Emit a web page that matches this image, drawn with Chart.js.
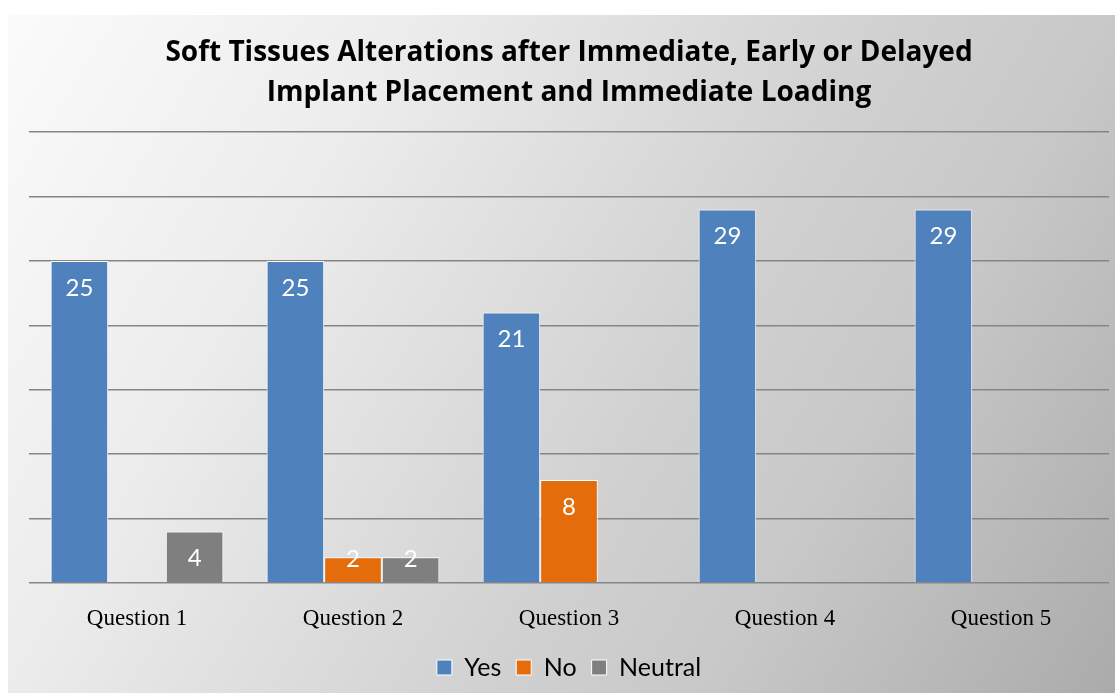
<!DOCTYPE html>
<html>
<head>
<meta charset="utf-8">
<script src="https://cdn.jsdelivr.net/npm/chart.js@4/dist/chart.umd.min.js"></script>
<style>
  html, body { margin: 0; padding: 0; background: #ffffff; }
  #wrap { width: 1115px; height: 693px; }
</style>
</head>
<body>
<div id="wrap"><canvas id="c" width="1115" height="693"></canvas></div>
<script>
const titleLines = ["Soft Tissues Alterations after Immediate, Early or Delayed", "Implant Placement and Immediate Loading"];
const categories = ["Question 1", "Question 2", "Question 3", "Question 4", "Question 5"];
const yesValues = [25, 25, 21, 29, 29];
const noValues = [null, 2, 8, null, null];
const neutralValues = [4, 2, null, null, null];
const seriesNames = ["Yes", "No", "Neutral"];
const seriesColors = ["#4f81bd", "#e46c0a", "#7f7f7f"];
const yMax = 35;
const yStep = 5;

const bgPlugin = {
  id: 'bg',
  beforeDraw(chart) {
    const ctx = chart.ctx;
    const w = chart.width, h = chart.height;
    ctx.save();
    ctx.fillStyle = '#ffffff';
    ctx.fillRect(0, 0, w, h);
    const g = ctx.createLinearGradient(8, 15, w, h);
    g.addColorStop(0, '#fbfbfb');
    g.addColorStop(0.27, '#ececec');
    g.addColorStop(0.58, '#d1d1d1');
    g.addColorStop(0.73, '#c8c8c8');
    g.addColorStop(1, '#ababab');
    ctx.fillStyle = g;
    ctx.fillRect(8, 15, w - 8, h - 15);
    ctx.restore();
  }
};

const labelPlugin = {
  id: 'valueLabels',
  afterDatasetsDraw(chart) {
    const ctx = chart.ctx;
    ctx.save();
    ctx.fillStyle = '#ffffff';
    ctx.font = '24px Lato, "Open Sans", sans-serif';
    ctx.textAlign = 'center';
    ctx.textBaseline = 'middle';
    chart.data.datasets.forEach((ds, di) => {
      const meta = chart.getDatasetMeta(di);
      meta.data.forEach((el, i) => {
        const v = ds.data[i];
        if (v === null || v === undefined) return;
        const cy = Math.min(el.y + 27, el.base - 23);
        ctx.fillText(String(v), el.x, cy);
      });
    });
    ctx.restore();
  }
};

const datasets = [yesValues, noValues, neutralValues].map((vals, i) => ({
  label: seriesNames[i],
  data: vals,
  backgroundColor: seriesColors[i],
  borderColor: '#ffffff',
  borderWidth: 1,
  categoryPercentage: 0.8,
  barPercentage: 1.0
}));

new Chart(document.getElementById('c'), {
  type: 'bar',
  data: { labels: categories, datasets: datasets },
  plugins: [bgPlugin, labelPlugin],
  options: {
    responsive: false,
    animation: false,
    events: [],
    layout: { padding: { left: 29, right: 6, top: 0, bottom: 3 } },
    plugins: {
      tooltip: { enabled: false },
      title: {
        display: true,
        text: titleLines,
        color: '#000000',
        font: { family: '"Open Sans", Lato, sans-serif', size: 28, weight: 'bold', lineHeight: 1.43 },
        padding: { top: 33, bottom: 19 }
      },
      legend: {
        display: true,
        position: 'bottom',
        labels: {
          color: '#000000',
          font: { family: 'Lato, "Open Sans", sans-serif', size: 25 },
          boxWidth: 15,
          boxHeight: 15,
          padding: 15
        }
      }
    },
    scales: {
      x: {
        grid: { display: false, drawTicks: false },
        border: { display: false },
        ticks: {
          color: '#000000',
          font: { family: '"Liberation Serif", "DejaVu Serif", serif', size: 23 },
          padding: 22
        },
        afterFit(scale) { scale.height = 57; }
      },
      y: {
        min: 0,
        max: yMax,
        ticks: { display: false, stepSize: yStep },
        grid: { color: '#858585', lineWidth: 1.5, drawTicks: false },
        border: { display: false },
        afterFit(scale) { scale.width = 0; }
      }
    }
  }
});
</script>
</body>
</html>
